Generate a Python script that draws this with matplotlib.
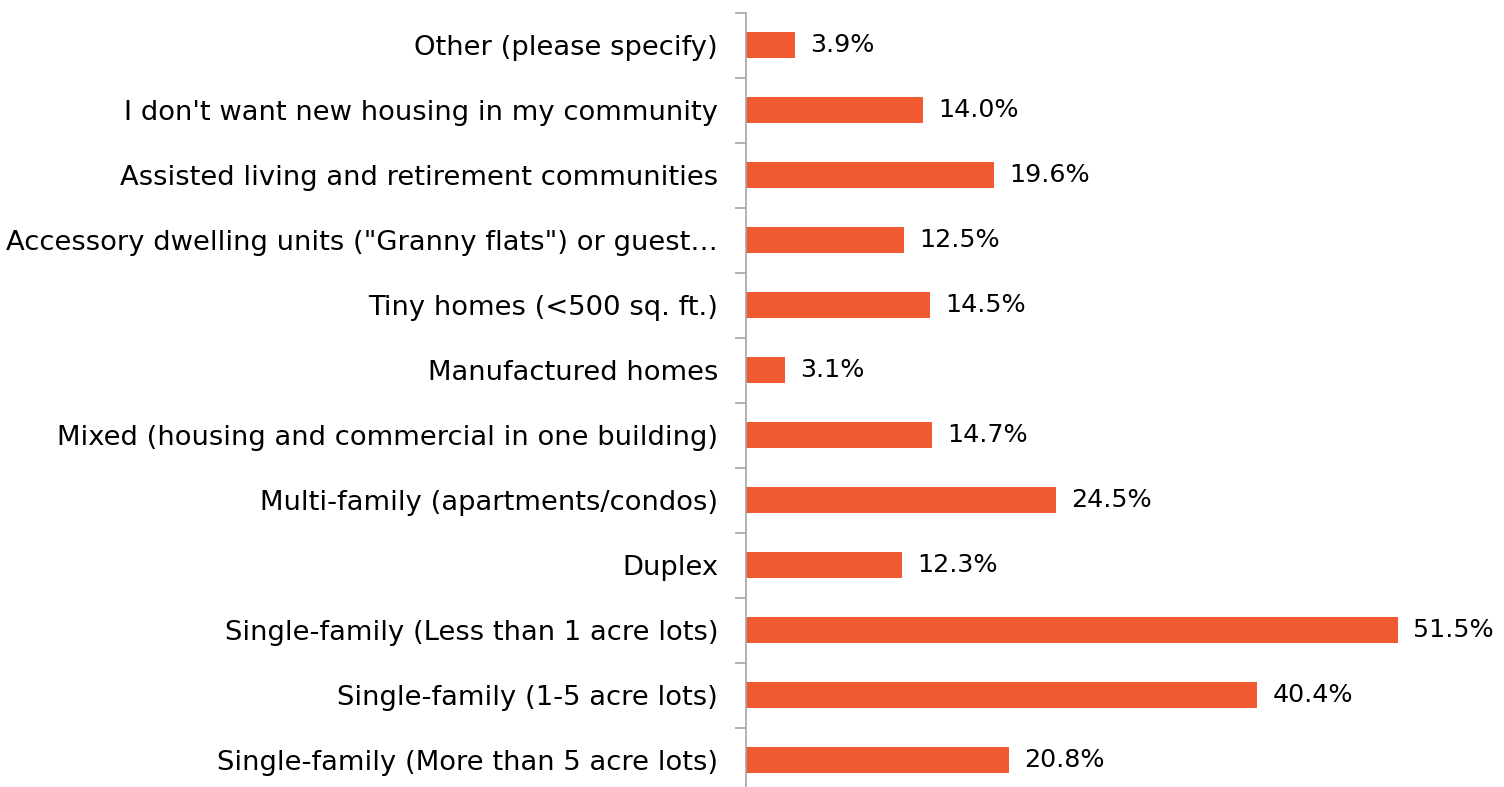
import numpy as np
import matplotlib.pyplot as plt
from matplotlib.ticker import FixedLocator, NullFormatter

# Survey categories (bottom to top) and share of responses (%)
categories = [
    "Single-family (More than 5 acre lots)",
    "Single-family (1-5 acre lots)",
    "Single-family (Less than 1 acre lots)",
    "Duplex",
    "Multi-family (apartments/condos)",
    "Mixed (housing and commercial in one building)",
    "Manufactured homes",
    "Tiny homes (<500 sq. ft.)",
    "Accessory dwelling units (\"Granny flats\") or guest\u2026",
    "Assisted living and retirement communities",
    "I don't want new housing in my community",
    "Other (please specify)",
]
values = [20.8, 40.4, 51.5, 12.3, 24.5, 14.7, 3.1, 14.5, 12.5, 19.6, 14.0, 3.9]

BAR_COLOR = "#F15A31"
AXIS_COLOR = "#A6A6A6"

plt.rcParams["font.family"] = ["DejaVu Sans"]

fig = plt.figure(figsize=(15.04, 7.87), dpi=100)
ax = fig.add_axes([746 / 1504, -5.5 / 787, (1490 - 746) / 1504, 780 / 787])

y = np.arange(len(categories))
ax.barh(y, values, height=0.4, color=BAR_COLOR)

# value labels just past the end of each bar
for yi, v in zip(y, values):
    ax.text(v + 1.2, yi, f"{v:.1f}%", va="center", ha="left", fontsize=18.3, color="black")

ax.set_xlim(0, (1490 - 746) / 12.66)
ax.set_ylim(-0.5, len(categories) - 0.5)

ax.set_yticks(y)
ax.set_yticklabels(categories, fontsize=19.7)
ax.tick_params(axis="y", which="major", length=0, pad=20)
# small tick marks sit between the categories
ax.yaxis.set_minor_locator(FixedLocator(np.arange(-0.5, len(categories), 1.0)))
ax.yaxis.set_minor_formatter(NullFormatter())
ax.tick_params(axis="y", which="minor", length=8, width=1.2, color=AXIS_COLOR)

ax.set_xticks([])
for side in ["top", "right", "bottom"]:
    ax.spines[side].set_visible(False)
ax.spines["left"].set_color(AXIS_COLOR)
ax.spines["left"].set_linewidth(1.2)

fig.savefig("out.png", dpi=100)
